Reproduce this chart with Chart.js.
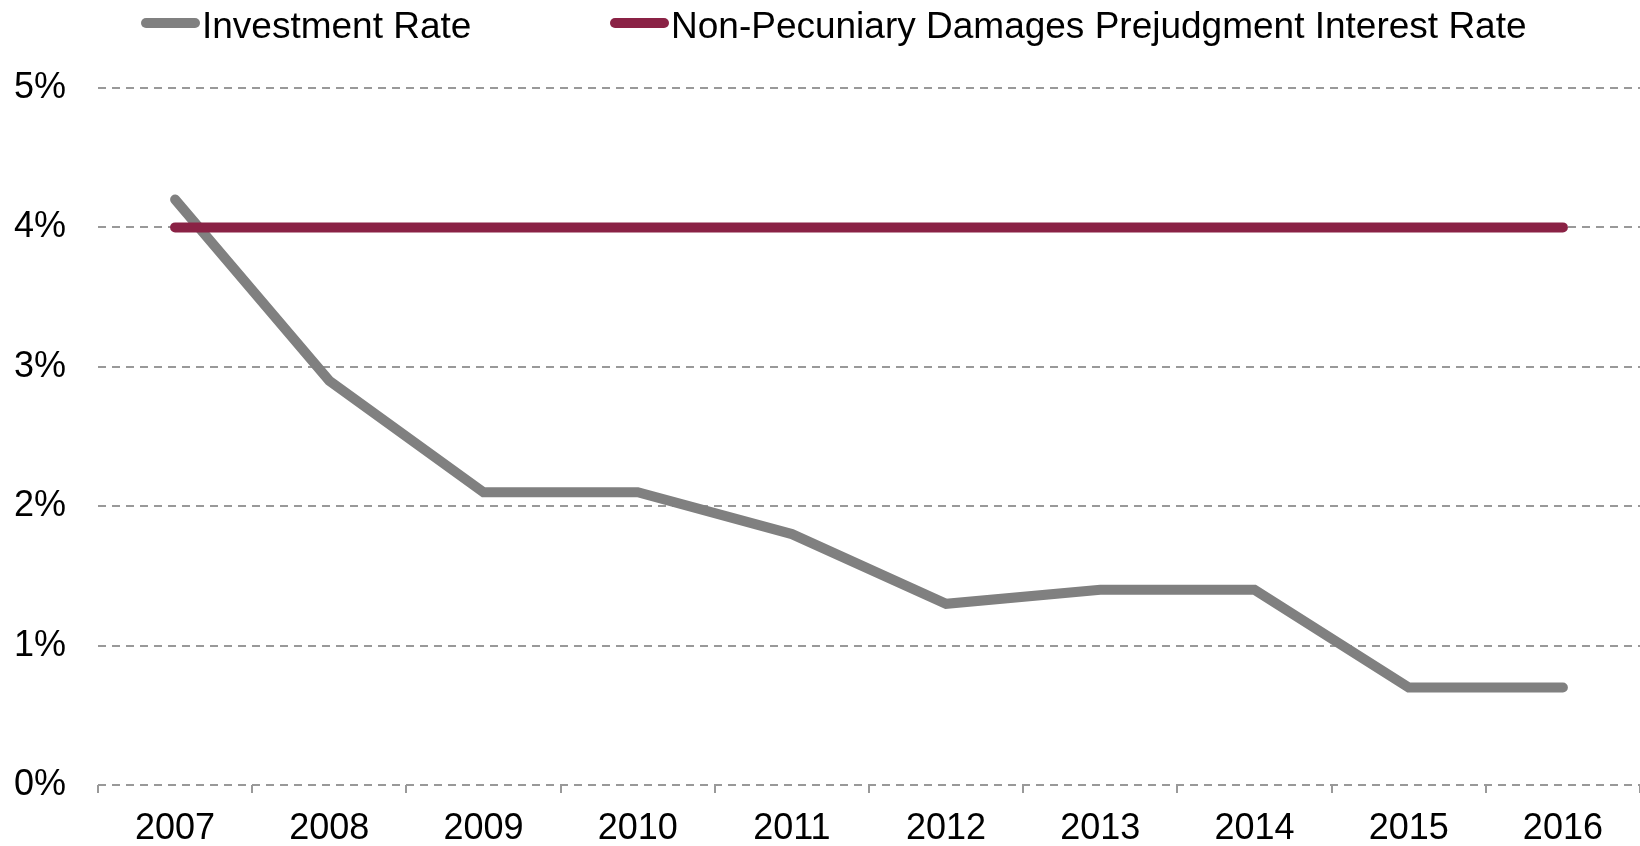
<!DOCTYPE html>
<html>
<head>
<meta charset="utf-8">
<script src="https://cdn.jsdelivr.net/npm/chart.js@4/dist/chart.umd.min.js"></script>
<style>
  html, body { margin: 0; padding: 0; background: #fff; }
  #wrap { position: relative; width: 1640px; height: 846px; }
  #legend { position: absolute; left: 0; top: 0; width: 1640px; height: 50px;
    font-family: "Liberation Sans", Arial, sans-serif; font-size: 37px; color: #000; }
  .item { position: absolute; top: 5px; line-height: 42px; white-space: nowrap; }
  .swatch { position: absolute; top: 18px; height: 10px; border-radius: 5px; }
</style>
</head>
<body>
<div id="wrap">
  <canvas id="chart" width="1640" height="846"></canvas>
  <div id="legend"></div>
</div>
<script>
// Data
const years = ['2007', '2008', '2009', '2010', '2011', '2012', '2013', '2014', '2015', '2016'];
const investmentRate = [4.2, 2.9, 2.1, 2.1, 1.8, 1.3, 1.4, 1.4, 0.7, 0.7];
const prejudgmentRate = [4, 4, 4, 4, 4, 4, 4, 4, 4, 4];
const seriesNames = ['Investment Rate', 'Non-Pecuniary Damages Prejudgment Interest Rate'];
const yTicks = [0, 1, 2, 3, 4, 5];

const GREY = '#808080';
const MAROON = '#8a2245';
const FONT = '"Liberation Sans", Arial, sans-serif';

// legend (html so the gap between swatch and text matches)
const legendEl = document.getElementById('legend');
const legendItems = [
    { name: seriesNames[0], color: GREY, x: 141 },
    { name: seriesNames[1], color: MAROON, x: 610 }
];
legendItems.forEach(it => {
    const sw = document.createElement('div');
    sw.className = 'swatch';
    sw.style.left = it.x + 'px';
    sw.style.width = '59px';
    sw.style.background = it.color;
    legendEl.appendChild(sw);
    const tx = document.createElement('div');
    tx.className = 'item';
    tx.style.left = (it.x + 61) + 'px';
    tx.textContent = it.name;
    legendEl.appendChild(tx);
});

const ctx = document.getElementById('chart').getContext('2d');
const chart = new Chart(ctx, {
    type: 'line',
    data: {
        labels: years,
        datasets: [
            { label: seriesNames[0], data: investmentRate, borderColor: GREY, borderWidth: 10,
              borderCapStyle: 'round', borderJoinStyle: 'miter', pointRadius: 0, fill: false, tension: 0, order: 1 },
            { label: seriesNames[1], data: prejudgmentRate, borderColor: MAROON, borderWidth: 10,
              borderCapStyle: 'round', pointRadius: 0, fill: false, tension: 0, order: 0 }
        ]
    },
    options: {
        responsive: false,
        animation: false,
        layout: { padding: { top: 88, right: -11, left: 0, bottom: 0 } },
        plugins: { legend: { display: false }, tooltip: { enabled: false } },
        scales: {
            x: {
                offset: true,
                border: { display: false },
                grid: { offset: true, drawOnChartArea: false, drawTicks: true, tickLength: 8,
                        color: '#999', lineWidth: 2 },
                ticks: { color: '#000', font: { family: FONT, size: 36 }, padding: 14, maxRotation: 0 },
                afterFit: s => { s.height = 61; }
            },
            y: {
                min: 0, max: 5,
                afterBuildTicks: s => { s.ticks = yTicks.map(v => ({ value: v })); },
                border: { display: false, dash: [8, 6] },
                grid: { drawTicks: false, color: '#999', lineWidth: 2 },
                ticks: { color: '#000', font: { family: FONT, size: 36 }, padding: 32,
                         callback: v => v + '%' },
                afterFit: s => { s.width = 98; }
            }
        }
    }
});
</script>
</body>
</html>
